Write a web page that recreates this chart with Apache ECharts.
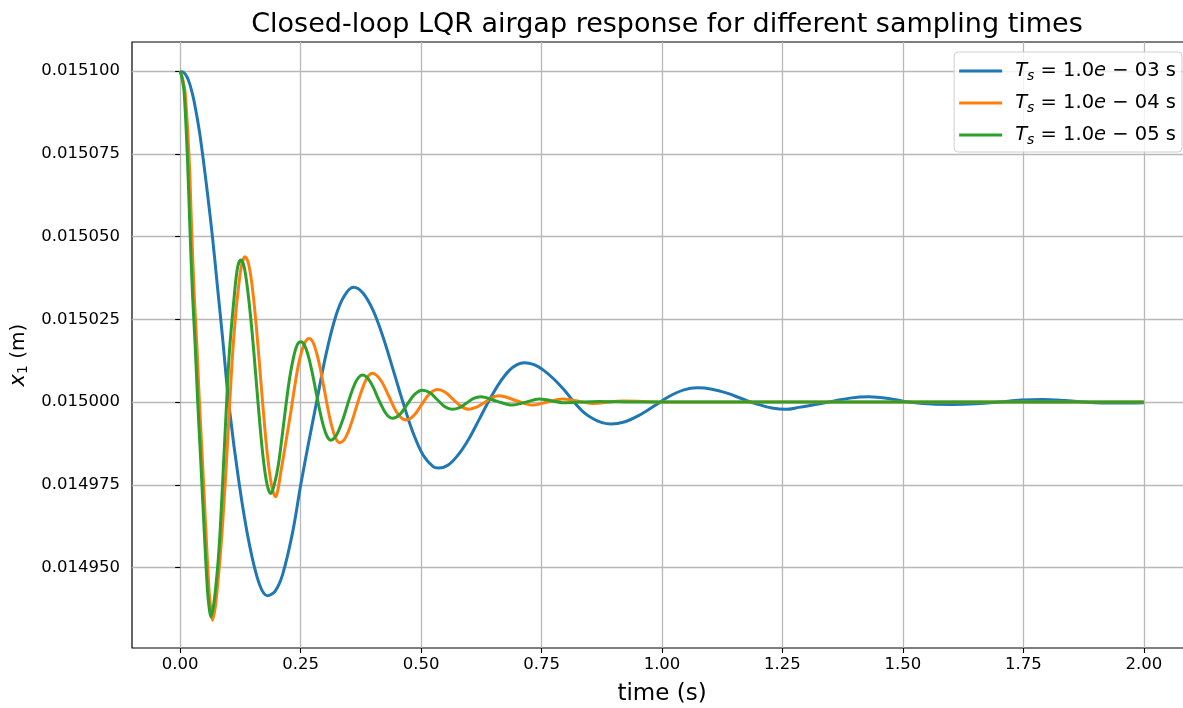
<!DOCTYPE html>
<html>
<head>
<meta charset="utf-8">
<script src="https://cdn.jsdelivr.net/npm/echarts@6/dist/echarts.min.js"></script>
<style>
  html, body { margin: 0; padding: 0; background: #fff; }
  #main { width: 1183px; height: 708px; }
</style>
</head>
<body>
<div id="main"></div>
<script>
// tick positions
const xTicks = [0, 0.25, 0.5, 0.75, 1.0, 1.25, 1.5, 1.75, 2.0];
const yTicks = [0.01495, 0.014975, 0.015, 0.015025, 0.01505, 0.015075, 0.0151];

// sampling time exponents for the legend
const tsExp = ['03', '04', '05'];

// Ts = 1e-3  [time (s), x1 (m)]
const blueData = [
  [0, 0.0151], [0.0083, 0.0150995], [0.014, 0.0150983], [0.0187, 0.0150966],
  [0.0241, 0.0150939], [0.029, 0.0150908], [0.0394, 0.0150823], [0.0463, 0.0150751],
  [0.0566, 0.0150631], [0.067, 0.0150499], [0.0774, 0.0150348], [0.0878, 0.0150197],
  [0.1017, 0.0149986], [0.1224, 0.0149754], [0.1432, 0.0149573], [0.1639, 0.0149452],
  [0.1811, 0.0149415], [0.1971, 0.0149429], [0.2122, 0.0149477], [0.233, 0.0149604],
  [0.2504, 0.0149752], [0.2676, 0.0149885], [0.2815, 0.0149988], [0.3023, 0.0150142],
  [0.323, 0.015026], [0.3402, 0.015032], [0.3595, 0.0150347], [0.3797, 0.0150329],
  [0.4004, 0.0150277], [0.4212, 0.0150196], [0.4419, 0.0150098], [0.4627, 0.0149998],
  [0.4834, 0.0149907], [0.5041, 0.014984], [0.5249, 0.0149805], [0.5363, 0.0149801],
  [0.5571, 0.0149811], [0.5788, 0.0149844], [0.5996, 0.014989], [0.6203, 0.0149947],
  [0.6411, 0.0150005], [0.6618, 0.0150056], [0.6826, 0.0150095], [0.6992, 0.0150113],
  [0.7137, 0.0150119], [0.7344, 0.0150113], [0.7552, 0.0150095], [0.776, 0.0150069],
  [0.7967, 0.0150037], [0.8174, 0.015], [0.8382, 0.0149968], [0.8589, 0.0149948],
  [0.8755, 0.0149938], [0.8936, 0.0149934], [0.9212, 0.014994], [0.9523, 0.014996],
  [0.9834, 0.0149988], [1.0145, 0.0150017], [1.0456, 0.0150037], [1.0732, 0.0150043],
  [1.1037, 0.0150039], [1.135, 0.0150027], [1.166, 0.015001], [1.1971, 0.0149994],
  [1.2282, 0.0149982], [1.2573, 0.0149978], [1.284, 0.0149984], [1.315, 0.0149992],
  [1.346, 0.015], [1.39, 0.0150012], [1.429, 0.0150016], [1.47, 0.0150011],
  [1.512, 0.015], [1.56, 0.0149994], [1.602, 0.0149993], [1.65, 0.0149995],
  [1.699, 0.015], [1.745, 0.0150006], [1.789, 0.0150008], [1.835, 0.0150005],
  [1.879, 0.015], [1.934, 0.0149997], [2.0, 0.0149998]
];

// Ts = 1e-4
const orangeData = [
  [0, 0.0151], [0.0052, 0.0150976], [0.0104, 0.0150934], [0.0187, 0.0150731],
  [0.0237, 0.0150529], [0.029, 0.0150329], [0.0346, 0.0150172], [0.0394, 0.0150015],
  [0.0465, 0.0149816], [0.0533, 0.0149613], [0.0602, 0.0149426], [0.0637, 0.0149372],
  [0.067, 0.0149341], [0.0725, 0.0149378], [0.0773, 0.014944], [0.0823, 0.014952],
  [0.0873, 0.0149615], [0.091, 0.01497], [0.0948, 0.0149787], [0.1023, 0.0149985],
  [0.1083, 0.0150135], [0.114, 0.0150245], [0.1197, 0.015033], [0.1276, 0.0150415],
  [0.1349, 0.0150439], [0.1428, 0.0150412], [0.1508, 0.0150333], [0.1587, 0.0150217],
  [0.1667, 0.0150076], [0.1747, 0.0149937], [0.1826, 0.014982], [0.1907, 0.0149741],
  [0.1985, 0.0149714], [0.2035, 0.014974], [0.2085, 0.0149785], [0.2158, 0.0149848],
  [0.2226, 0.0149908], [0.2303, 0.0149976], [0.2365, 0.0150036], [0.2448, 0.0150108],
  [0.2531, 0.0150158], [0.2604, 0.0150184], [0.2676, 0.0150192], [0.2755, 0.0150181],
  [0.2836, 0.0150146], [0.2915, 0.0150096], [0.2995, 0.0150035], [0.3075, 0.0149973],
  [0.3154, 0.0149923], [0.3235, 0.0149889], [0.3313, 0.0149877], [0.3398, 0.0149885],
  [0.3482, 0.0149908], [0.3566, 0.0149942], [0.3651, 0.0149982], [0.3737, 0.0150022],
  [0.3821, 0.0150056], [0.3905, 0.0150079], [0.399, 0.0150087], [0.4163, 0.0150066],
  [0.4336, 0.0150016], [0.4509, 0.0149966], [0.4683, 0.0149946], [0.4846, 0.0149959],
  [0.501, 0.0149992], [0.5174, 0.0150025], [0.5338, 0.0150038], [0.5502, 0.015003],
  [0.5667, 0.0150008], [0.5832, 0.0149987], [0.5996, 0.0149978], [0.6151, 0.0149985],
  [0.6307, 0.0149998], [0.6463, 0.0150013], [0.6618, 0.0150019], [0.6965, 0.0150005],
  [0.7309, 0.0149991], [0.762, 0.015], [0.7932, 0.0150009], [0.8243, 0.0150003],
  [0.8554, 0.0149996], [0.92, 0.0150003], [1.0, 0.015], [2.0, 0.015]
];

// Ts = 1e-5
const greenData = [
  [0, 0.0151], [0.0042, 0.0150976], [0.0083, 0.0150934], [0.0152, 0.0150731],
  [0.0201, 0.0150529], [0.0255, 0.0150329], [0.0311, 0.0150172], [0.0359, 0.0150015],
  [0.0429, 0.0149816], [0.0498, 0.0149613], [0.0566, 0.0149432], [0.0602, 0.0149378],
  [0.0637, 0.0149351], [0.069, 0.0149383], [0.0741, 0.0149445], [0.0785, 0.0149515],
  [0.0824, 0.0149598], [0.0858, 0.014969], [0.0892, 0.0149789], [0.0961, 0.0149991],
  [0.1017, 0.0150142], [0.112, 0.0150317], [0.1193, 0.0150408], [0.126, 0.0150429],
  [0.1328, 0.0150408], [0.1411, 0.0150326], [0.1494, 0.0150209], [0.1571, 0.0150077],
  [0.165, 0.014994], [0.1726, 0.0149827], [0.1805, 0.014975], [0.1882, 0.0149724],
  [0.1961, 0.0149755], [0.2037, 0.014981], [0.2116, 0.0149897], [0.2193, 0.0149988],
  [0.2272, 0.0150073], [0.2349, 0.0150133], [0.2427, 0.0150172], [0.2504, 0.0150182],
  [0.2583, 0.0150171], [0.266, 0.0150139], [0.2739, 0.015009], [0.2815, 0.0150034],
  [0.2894, 0.0149976], [0.2971, 0.0149929], [0.305, 0.0149896], [0.3127, 0.0149885],
  [0.321, 0.0149893], [0.329, 0.0149914], [0.3373, 0.0149946], [0.3454, 0.0149983],
  [0.3535, 0.0150021], [0.3618, 0.0150053], [0.3699, 0.0150074], [0.3782, 0.0150082],
  [0.3859, 0.0150077], [0.3938, 0.0150063], [0.4015, 0.0150042], [0.4093, 0.0150016],
  [0.417, 0.0149992], [0.4249, 0.014997], [0.4328, 0.0149956], [0.4405, 0.0149951],
  [0.456, 0.0149963], [0.4716, 0.0149994], [0.4871, 0.0150024], [0.5027, 0.0150036],
  [0.5183, 0.0150028], [0.5338, 0.0150007], [0.5494, 0.0149986], [0.565, 0.0149978],
  [0.5797, 0.0149983], [0.5944, 0.0149997], [0.6091, 0.0150011], [0.6239, 0.0150016],
  [0.6566, 0.0150003], [0.6894, 0.0149991], [0.7172, 0.015], [0.7448, 0.0150009],
  [0.8, 0.0149998], [0.87, 0.0150002], [0.95, 0.015], [2.0, 0.015]
];

const font = 'DejaVu Sans';
const colors = ['#1f77b4', '#ff7f0e', '#2ca02c'];
const names = tsExp.map(e => 'Ts=1.0e-' + e);

let myChart = echarts.init(document.getElementById('main'));

let option = {
  animation: false,
  backgroundColor: '#fff',
  color: colors,
  textStyle: { fontFamily: font },
  title: {
    text: 'Closed-loop LQR airgap response for different sampling times',
    left: 662, top: 6, textAlign: 'center',
    textStyle: { fontFamily: font, fontSize: 27, fontWeight: 'normal', color: '#000' }
  },
  legend: {
    orient: 'vertical', right: 1, top: 52,
    data: names,
    icon: 'rect', itemWidth: 43, itemHeight: 3, itemGap: 10,
    padding: [9, 6, 5, 5],
    borderColor: '#d0d0d0', borderWidth: 1, borderRadius: 4,
    backgroundColor: 'rgba(255,255,255,0.8)',
    formatter: function (name) {
      let e = tsExp[names.indexOf(name)];
      return '{g|}{i|T}{s|s}{n| = 1.0}{i|e}{n| \u2212 ' + e + ' s}';
    },
    textStyle: {
      color: '#000', fontFamily: font, fontSize: 19.5,
      rich: {
        g: { width: 8 },
        i: { fontFamily: font, fontSize: 19.5, fontStyle: 'italic', color: '#000', lineHeight: 20 },
        s: { fontFamily: font, fontSize: 14, fontStyle: 'italic', color: '#000', padding: [10, 0, 0, 0] },
        n: { fontFamily: font, fontSize: 19.5, color: '#000', lineHeight: 20 }
      }
    }
  },
  grid: {
    left: 132, top: 42, width: 1060, height: 606,
    outerBoundsMode: 'none', containLabel: false,
    show: true, borderColor: '#000', borderWidth: 1.2, backgroundColor: 'transparent'
  },
  xAxis: {
    type: 'value', min: -0.1, max: 2.1,
    name: 'time (s)', nameLocation: 'middle', nameGap: 35,
    nameTextStyle: { fontFamily: font, fontSize: 23, color: '#000' },
    axisLine: { show: false },
    axisTick: { show: true, length: 5, lineStyle: { color: '#000', width: 1.1 }, customValues: xTicks },
    axisLabel: {
      customValues: xTicks, color: '#000', fontFamily: font, fontSize: 16.5, margin: 8,
      formatter: v => v.toFixed(2)
    },
    splitLine: { show: true, lineStyle: { color: '#b8b8b8', width: 1.3 } }
  },
  yAxis: {
    type: 'value', min: 0.0149257, max: 0.0151088,
    name: '{i|x}{s|1}{n| (m)}', nameLocation: 'middle', nameGap: 97, nameRotate: 90,
    nameTextStyle: {
      fontFamily: font, fontSize: 20, color: '#000', padding: [0, 20, 0, 0],
      rich: {
        i: { fontFamily: font, fontSize: 21, fontStyle: 'italic', color: '#000', lineHeight: 22 },
        s: { fontFamily: font, fontSize: 14, color: '#000', padding: [10, 0, 0, 0] },
        n: { fontFamily: font, fontSize: 20, color: '#000', lineHeight: 22 }
      }
    },
    axisLine: { show: false },
    axisTick: { show: true, length: 5, lineStyle: { color: '#000', width: 1.1 }, customValues: yTicks },
    axisLabel: {
      customValues: yTicks, color: '#000', fontFamily: font, fontSize: 16.5, margin: 12,
      formatter: v => v.toFixed(6)
    },
    splitLine: { show: true, lineStyle: { color: '#b8b8b8', width: 1.3 } }
  },
  series: [blueData, orangeData, greenData].map((d, i) => ({
    name: names[i],
    type: 'line',
    data: d,
    showSymbol: false,
    smooth: 0.35,
    lineStyle: { width: 3, color: colors[i] },
    z: 2 + i
  }))
};

myChart.setOption(option);
</script>
</body>
</html>
